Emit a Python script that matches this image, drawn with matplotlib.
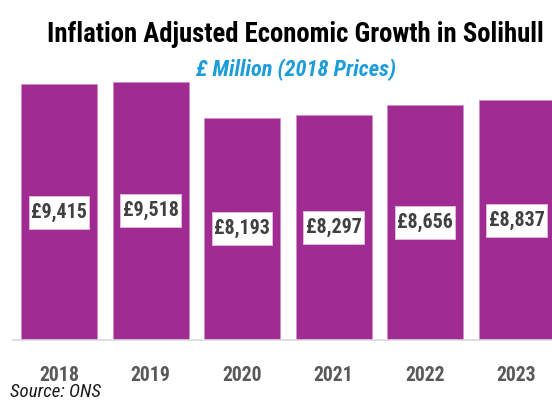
import matplotlib
matplotlib.use("Agg")
import matplotlib.pyplot as plt
from matplotlib import font_manager
from matplotlib.patches import Rectangle
from matplotlib.transforms import IdentityTransform

years = ["2018", "2019", "2020", "2021", "2022", "2023"]
values = [9415, 9518, 8193, 8297, 8656, 8837]
value_labels = ["£9,415", "£9,518", "£8,193", "£8,297", "£8,656", "£8,837"]
title = "Inflation Adjusted Economic Growth in Solihull"
subtitle = "£ Million (2018 Prices)"
source = "Source: ONS"

names = {f.name for f in font_manager.fontManager.ttflist}
NARROW = "Roboto"
for cand in ["Roboto Condensed", "Liberation Sans Narrow", "Open Sans Condensed",
             "Noto Sans Condensed", "Arial Narrow", "DejaVu Sans Condensed"]:
    if cand in names:
        NARROW = cand
        break
plt.rcParams["font.family"] = [NARROW, "DejaVu Sans"]

W, H = 552, 401
fig = plt.figure(figsize=(W / 100, H / 100), dpi=100)
renderer = fig.canvas.get_renderer()

def fx(px):
    return px / W

def fy(py):
    return 1 - py / H

def fit(t, target_w):
    bb = t.get_window_extent(renderer)
    t.set_fontsize(t.get_fontsize() * target_w / bb.width)

# axes geometry (pixels)
left_px = 13.25
slot = 91.5
zero_px = 340
scale = 27.15 / 1000  # px per unit
ymax = 10000
ax = fig.add_axes([fx(left_px), (H - zero_px) / H, slot * 6 / W, ymax * scale / H])
ax.set_xlim(-0.5, 5.5)
ax.set_ylim(0, ymax)

bar_color = "#A02B93"
x = list(range(len(years)))
ax.bar(x, values, width=76 / slot, color=bar_color, edgecolor="#cf8fc6", linewidth=0.6, zorder=2)

for s in ["top", "right", "left"]:
    ax.spines[s].set_visible(False)
ax.spines["bottom"].set_color("#d9d9d9")
ax.spines["bottom"].set_linewidth(1.2)
ax.set_yticks([])
ax.set_xticks(x)
ax.set_xticklabels(years, fontsize=16, fontweight="bold", color="#595959")
ax.tick_params(axis="x", length=0)

# fit tick label size
fig.canvas.draw()
tl = ax.get_xticklabels()
w0 = tl[0].get_window_extent(renderer).width
tick_fs = 16 * 40 / w0
ax.tick_params(axis="x", labelsize=tick_fs, pad=tick_fs * 1.3)

labels = []
for xi, v, lab in zip(x, values, value_labels):
    t = ax.text(xi, v / 2, lab, ha="center", va="center", fontsize=16, fontweight="bold",
                color="#404040", zorder=4)
    labels.append(t)
fit(labels[0], 56)
for t in labels[1:]:
    t.set_fontsize(labels[0].get_fontsize())

t1 = fig.text(fx(295), fy(41.5), title, ha="center", va="baseline", fontsize=20,
              fontweight="bold", color="#000000")
fit(t1, 498)
t2 = fig.text(fx(296), fy(76), subtitle, ha="center", va="baseline", fontsize=15,
              fontweight="bold", style="italic", color="#1C9CD8")
fit(t2, 201)
t3 = fig.text(fx(10), fy(397), source, ha="left", va="baseline", fontsize=11,
              style="italic", color="#1a1a1a")
fit(t3, 90)

fig.canvas.draw()
for t in labels:
    bb = t.get_window_extent(renderer)
    cx, cy = (bb.x0 + bb.x1) / 2, (bb.y0 + bb.y1) / 2
    bw, bh = bb.width + 5, 33
    r = Rectangle((cx - bw / 2, cy - bh / 2), bw, bh, transform=IdentityTransform(),
                  facecolor="white", edgecolor="#e3b8dc", linewidth=0.7, zorder=3)
    ax.add_artist(r)

fig.savefig("out.png", dpi=100)
